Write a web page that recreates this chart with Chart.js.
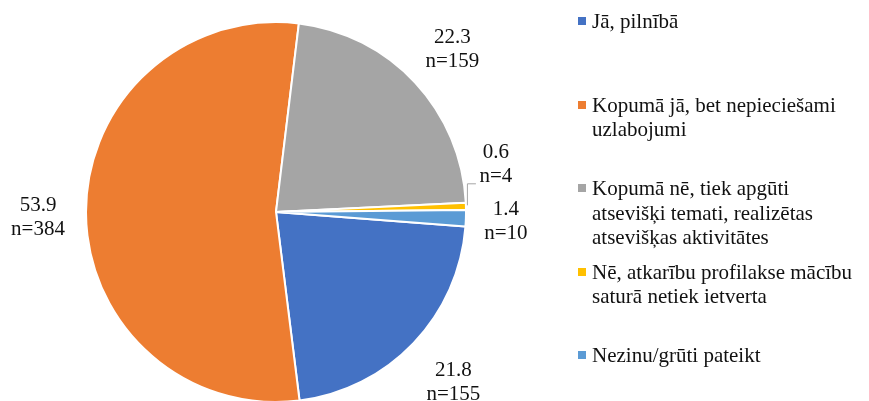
<!DOCTYPE html>
<html>
<head>
<meta charset="utf-8">
<script src="https://cdn.jsdelivr.net/npm/chart.js@4/dist/chart.umd.min.js"></script>
<style>
  html, body { margin: 0; padding: 0; background: #fff; overflow: hidden; }
  #wrap { position: relative; width: 869px; height: 420px; }
  #wrap canvas { position: absolute; left: 0; top: 0; }
  #legend { position: absolute; left: 0; top: 0; width: 869px; height: 401px; pointer-events: none;
            font-family: 'Liberation Serif', 'Times New Roman', serif; font-size: 21px; line-height: 24.5px; color: #111; }
  .item { position: absolute; left: 578px; white-space: pre; }
  .box { position: absolute; left: 0; top: 8px; width: 8px; height: 8px; }
  .txt { position: absolute; left: 14px; top: 0; }
</style>
</head>
<body>
<div id="wrap">
  <canvas id="pie" width="869" height="420"></canvas>
  <div id="legend"></div>
</div>
<script>
// answers, share in % and respondent count
const categories = [
    'Jā, pilnībā',
    'Kopumā jā, bet nepieciešami\nuzlabojumi',
    'Kopumā nē, tiek apgūti\natsevišķi temati, realizētas\natsevišķas aktivitātes',
    'Nē, atkarību profilakse mācību\nsaturā netiek ietverta',
    'Nezinu/grūti pateikt'
];
const percents = [21.8, 53.9, 22.3, 0.6, 1.4];
const counts = [155, 384, 159, 4, 10];
const colors = ['#4472C4', '#ED7D31', '#A5A5A5', '#FFC000', '#5B9BD5'];

// extra distance of each label from the pie edge, plus small nudges
const labelGap = [55, 48, 51, 0, 40];
const labelNudge = [[0, 0], [0, 4], [0, 0], [30, -43], [0, 0]];

const pieLabels = {
    id: 'pieLabels',
    afterDatasetsDraw(chart) {
        const ctx = chart.ctx;
        const arcs = chart.getDatasetMeta(0).data;
        ctx.save();
        ctx.font = '21px "Liberation Serif", "Times New Roman", serif';
        ctx.fillStyle = '#111';
        ctx.textAlign = 'center';
        ctx.textBaseline = 'alphabetic';
        arcs.forEach((arc, i) => {
            const p = arc.getProps(['x', 'y', 'startAngle', 'endAngle', 'outerRadius'], true);
            const mid = (p.startAngle + p.endAngle) / 2;
            const r = p.outerRadius + labelGap[i];
            const x = p.x + Math.cos(mid) * r + labelNudge[i][0];
            const y = p.y + Math.sin(mid) * r + labelNudge[i][1];
            if (labelGap[i] === 0) {
                // leader line for the thin slice
                const ex = p.x + Math.cos(mid) * p.outerRadius + 1;
                const ey = p.y + Math.sin(mid) * p.outerRadius - 1;
                ctx.beginPath();
                ctx.strokeStyle = '#A6A6A6';
                ctx.lineWidth = 1;
                ctx.moveTo(ex + 0.5, ey);
                ctx.lineTo(ex + 0.5, y + 20.5);
                ctx.lineTo(ex + 9, y + 20.5);
                ctx.stroke();
            }
            ctx.fillText(percents[i].toFixed(1), x, y - 5);
            ctx.fillText('n=' + counts[i], x, y + 19);
        });
        ctx.restore();
    }
};

new Chart(document.getElementById('pie'), {
    type: 'pie',
    data: {
        labels: categories,
        datasets: [{
            data: percents,
            backgroundColor: colors,
            borderColor: '#fff',
            borderWidth: 2,
        }]
    },
    options: {
        responsive: false,
        animation: false,
        rotation: 94.4,
        layout: { padding: { left: 85, right: 402, top: 21, bottom: 17 } },
        plugins: {
            legend: { display: false },
            tooltip: { enabled: false }
        }
    },
    plugins: [pieLabels]
});

const legend = document.getElementById('legend');
categories.forEach((label, i) => {
    const item = document.createElement('div');
    item.className = 'item';
    item.style.top = (9 + i * 83.5) + 'px';
    item.innerHTML = '<span class="box" style="background:' + colors[i] + '"></span>';
    const t = document.createElement('span');
    t.className = 'txt';
    t.textContent = label;
    item.appendChild(t);
    legend.appendChild(item);
});
</script>
</body>
</html>
